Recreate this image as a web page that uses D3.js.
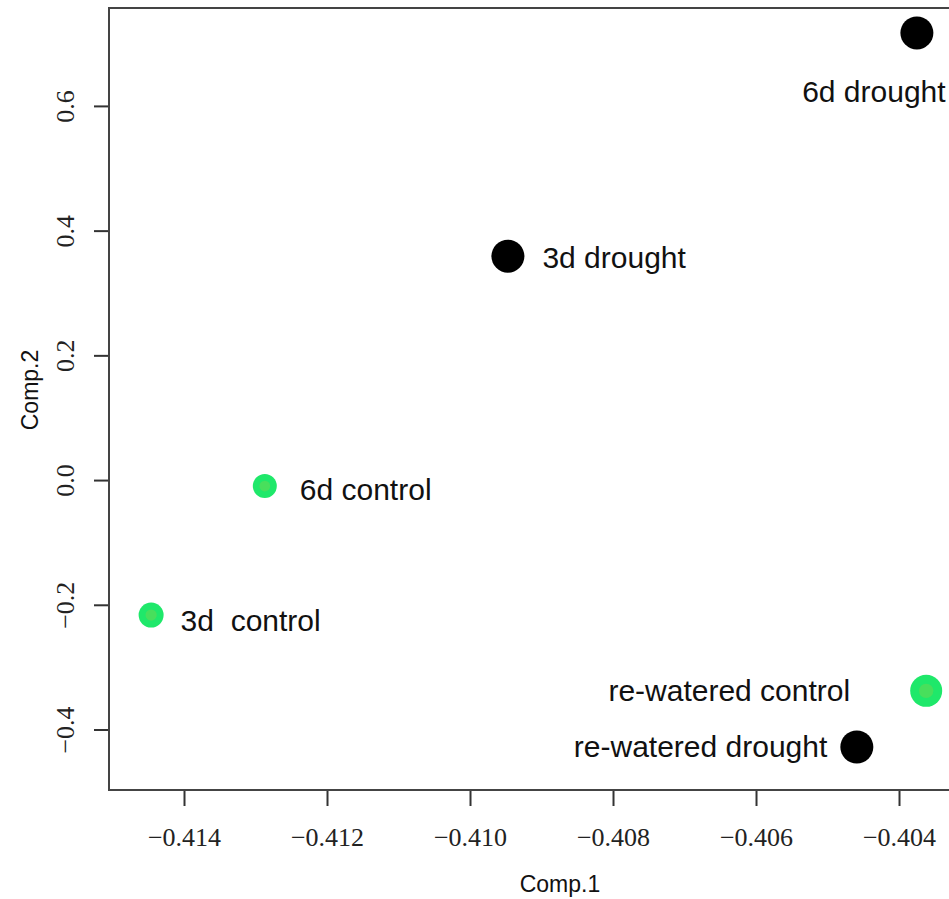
<!DOCTYPE html>
<html>
<head>
<meta charset="utf-8">
<script src="https://cdn.jsdelivr.net/npm/d3@7"></script>
<style>
  body { margin: 0; background: #fff; }
  .tick text { font-family: "Liberation Serif", "DejaVu Serif", serif; }
  .axisLabel { font-family: "Liberation Sans", Arial, sans-serif; font-size: 23px; fill: #111; }
  .ptLabel { font-family: "Liberation Sans", Arial, sans-serif; font-size: 30px; fill: #111; white-space: pre; }
</style>
</head>
<body>
<script>
// PCA scores
const samples = ["6d drought", "3d drought", "6d control", "3d  control", "re-watered control", "re-watered drought"];
const comp1 = [-0.40375, -0.40947, -0.41287, -0.41446, -0.40362, -0.40459];
const comp2 = [0.717, 0.359, -0.0096, -0.2165, -0.338, -0.428];
const group = ["drought", "drought", "control", "control", "control", "drought"];

const xTicks = [-0.414, -0.412, -0.410, -0.408, -0.406, -0.404];
const yTicks = [-0.4, -0.2, 0.0, 0.2, 0.4, 0.6];

// styles kept apart from the data
const pointR = {"6d drought": 16.5, "3d drought": 16.5, "6d control": 12, "3d  control": 12.5,
                "re-watered control": 16, "re-watered drought": 16.5};
// label placement: side, gap from the dot edge, vertical nudge
const labelPos = {
  "6d drought": ["below", 0, 69],
  "3d drought": ["right", 18, 12],
  "6d control": ["right", 23, 14],
  "3d  control": ["right", 17, 16],
  "re-watered control": ["left", 60, 10],
  "re-watered drought": ["left", 13, 10]
};

const width = 949, height = 899;
const box = {left: 109, right: 960, top: 8, bottom: 790};

const svg = d3.select("body").append("svg")
  .attr("width", width)
  .attr("height", height);

const xScale = d3.scaleLinear()
  .domain([-0.415049, -0.403147])
  .range([box.left, box.right]);

const yScale = d3.scaleLinear()
  .domain([-0.497, 0.757])
  .range([box.bottom, box.top]);

const minus = s => s.replace("-", "\u2212");

// x axis
const xAxis = svg.append("g")
  .attr("transform", "translate(0," + box.bottom + ")")
  .call(d3.axisBottom(xScale)
    .tickValues(xTicks)
    .tickSize(16)
    .tickPadding(22)
    .tickFormat(d => minus(d3.format(".3f")(d))));
xAxis.select(".domain").remove();
xAxis.selectAll(".tick line").attr("stroke", "#333").attr("stroke-width", 2);
xAxis.selectAll(".tick text").attr("font-size", 26).attr("fill", "#222");

// y axis
const yAxis = svg.append("g")
  .attr("transform", "translate(" + box.left + ",0)")
  .call(d3.axisLeft(yScale)
    .tickValues(yTicks)
    .tickSize(15)
    .tickFormat(d => minus(d3.format(".1f")(d))));
yAxis.select(".domain").remove();
yAxis.selectAll(".tick line").attr("stroke", "#333").attr("stroke-width", 2);
yAxis.selectAll(".tick text")
  .attr("font-size", 26)
  .attr("fill", "#222")
  .attr("x", null)
  .attr("text-anchor", "middle")
  .attr("transform", "translate(-44,0) rotate(-90)")
  .attr("dy", "0.35em");

// frame
svg.append("rect")
  .attr("x", box.left)
  .attr("y", box.top)
  .attr("width", box.right - box.left)
  .attr("height", box.bottom - box.top)
  .attr("fill", "none")
  .attr("stroke", "#444")
  .attr("stroke-width", 2);

// axis labels
svg.append("text")
  .attr("class", "axisLabel")
  .attr("x", 560)
  .attr("y", 892)
  .attr("text-anchor", "middle")
  .text("Comp.1");

svg.append("text")
  .attr("class", "axisLabel")
  .attr("transform", "translate(38,390) rotate(-90)")
  .attr("text-anchor", "middle")
  .text("Comp.2");

// points
const pts = samples.map((s, i) => ({name: s, x: comp1[i], y: comp2[i], g: group[i]}));

const dots = svg.append("g").selectAll("g")
  .data(pts)
  .enter().append("g")
  .attr("transform", d => "translate(" + xScale(d.x) + "," + yScale(d.y) + ")");

dots.append("circle")
  .attr("r", d => pointR[d.name])
  .attr("fill", d => d.g === "drought" ? "#000" : "#1fe86a");

dots.filter(d => d.g === "control").append("circle")
  .attr("r", d => pointR[d.name] * 0.45)
  .attr("fill", "#48df5c");

// point labels
svg.append("g").selectAll("text")
  .data(pts)
  .enter().append("text")
  .attr("class", "ptLabel")
  .attr("x", d => {
    const [side, gap] = labelPos[d.name], cx = xScale(d.x), r = pointR[d.name];
    if (side === "right") return cx + r + gap;
    if (side === "left") return cx - r - gap;
    return cx - 43;
  })
  .attr("y", d => yScale(d.y) + labelPos[d.name][2])
  .attr("text-anchor", d => ({left: "end", right: "start", below: "middle"})[labelPos[d.name][0]])
  .text(d => d.name);
</script>
</body>
</html>
